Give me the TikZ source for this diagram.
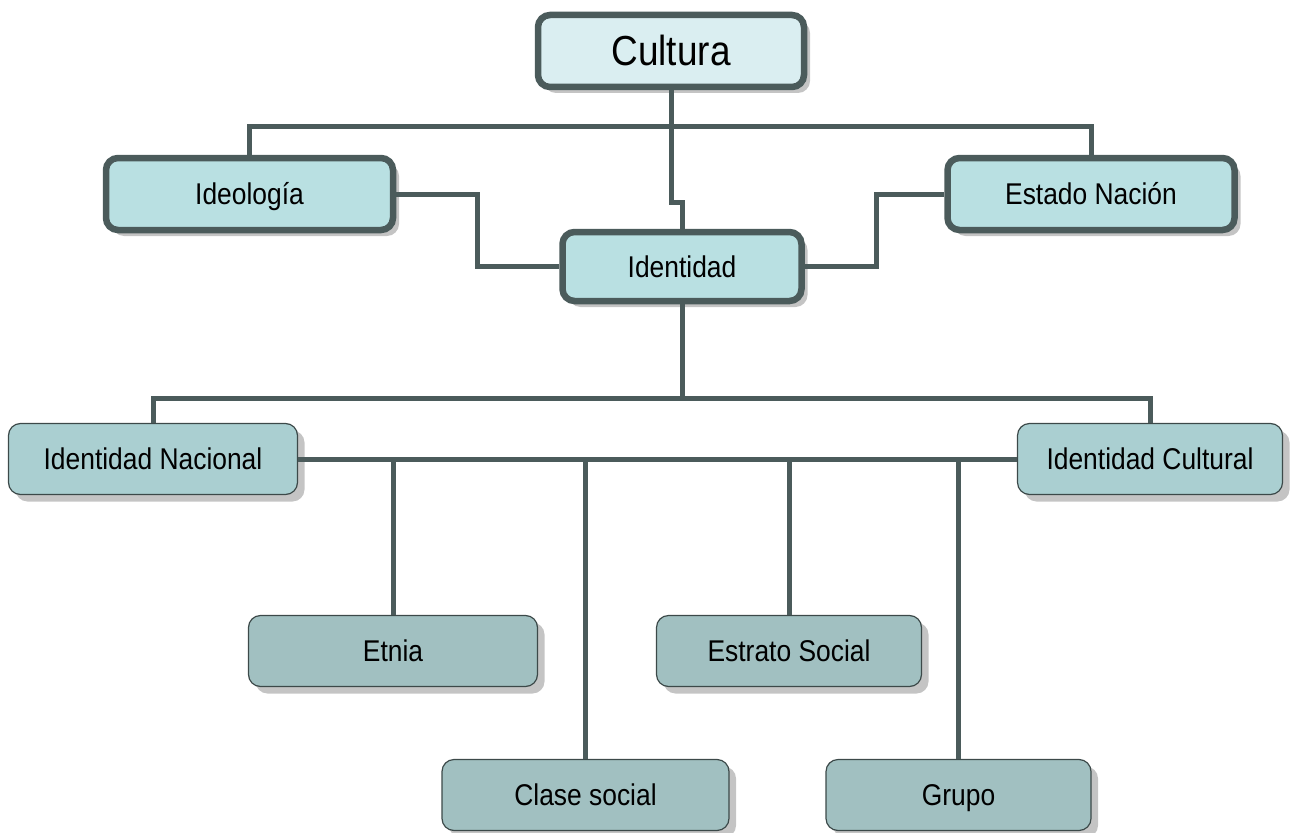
\documentclass[tikz,border=0pt]{standalone}
\usepackage{fontspec}
\setmainfont{Liberation Sans}[FakeStretch=0.88]
\usetikzlibrary{shadows}
\definecolor{linec}{HTML}{4B5B5B}
\definecolor{topfill}{HTML}{DAEEF1}
\definecolor{midfill}{HTML}{B9E0E2}
\definecolor{idfill}{HTML}{AACFD1}
\definecolor{lowfill}{HTML}{A1C0C1}
\definecolor{shadowc}{HTML}{C4C4C4}
\tikzset{
  thickbox/.style={draw=linec, line width=6.5pt, rounded corners=12pt, inner sep=0pt,
    drop shadow={shadow xshift=6pt, shadow yshift=-6pt, fill=shadowc, opacity=1}},
  thinbox/.style={draw=linec!80!black, line width=1.2pt, rounded corners=12pt, inner sep=0pt,
    drop shadow={shadow xshift=7pt, shadow yshift=-7pt, fill=shadowc, opacity=1}},
  conn/.style={draw=linec, line width=5pt},
  lbl/.style={font=\fontsize{30}{35}\selectfont, text height=21.5pt, text depth=0pt}
}
\begin{document}
\begin{tikzpicture}[x=1pt,y=-1pt]
\useasboundingbox (0,0) rectangle (1292,832);
% top level
\node[thickbox, fill=topfill, minimum width=266pt, minimum height=72pt,
  font=\fontsize{42}{48}\selectfont, text height=30pt, text depth=0pt] (cult) at (671,51) {Cultura};
\node[thickbox, fill=midfill, minimum width=287pt, minimum height=72pt, lbl] (ideo) at (249.5,194) {Ideología};
\node[thickbox, fill=midfill, minimum width=287pt, minimum height=72pt, lbl] (est) at (1091,194) {Estado Nación};
\node[thickbox, fill=midfill, minimum width=239pt, minimum height=69pt, lbl] (iden) at (682,266.5) {Identidad};
% second level
\node[thinbox, fill=idfill, minimum width=289pt, minimum height=71pt, lbl] (inac) at (153,459) {Identidad Nacional};
\node[thinbox, fill=idfill, minimum width=265pt, minimum height=71pt, lbl] (icul) at (1150,459) {Identidad Cultural};
% bottom level
\node[thinbox, fill=lowfill, minimum width=289pt, minimum height=71pt, lbl] (etn) at (393,651) {Etnia};
\node[thinbox, fill=lowfill, minimum width=265pt, minimum height=71pt, lbl] (estr) at (789,651) {Estrato Social};
\node[thinbox, fill=lowfill, minimum width=287pt, minimum height=71pt, lbl] (clase) at (585.5,795) {Clase social};
\node[thinbox, fill=lowfill, minimum width=265pt, minimum height=71pt, lbl] (grupo) at (958.5,795) {Grupo};
% bus coordinates
\coordinate (busA) at (671,127);
\coordinate (step) at (671,202);
\coordinate (busB) at (682,398);
% connectors
\draw[conn] (cult.south) -- (step) -| (iden.north);
\draw[conn] (ideo.north) |- (busA) -| (est.north);
\draw[conn] (ideo.east) -| (477,266.5) -- (iden.west);
\draw[conn] (est.west) -| (876,266.5) -- (iden.east);
\draw[conn] (iden.south) -- (busB);
\draw[conn] (inac.north) |- (busB) -| (icul.north);
\draw[conn] (inac.east) -- (icul.west);
\draw[conn] (etn.north) -- (etn.north |- inac.east);
\draw[conn] (clase.north) -- (clase.north |- inac.east);
\draw[conn] (estr.north) -- (estr.north |- inac.east);
\draw[conn] (grupo.north) -- (grupo.north |- inac.east);
\end{tikzpicture}
\end{document}
